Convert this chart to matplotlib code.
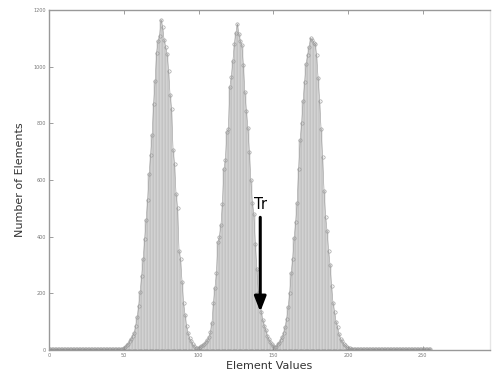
import numpy as np
from matplotlib import pyplot as plt

# element values 0..255 and counts
values = np.arange(256)

# background (flat part before first peak), 0..47
counts_low = [2, 2, 3, 2, 2, 3, 2, 2, 3, 2, 2, 2, 3, 2, 2, 3, 2, 2, 2, 3,
              2, 2, 3, 2, 2, 2, 3, 2, 2, 3, 2, 2, 2, 3, 2, 2, 3, 2, 2, 3,
              2, 2, 3, 2, 3, 3, 3, 3]
# first peak, 48..100
counts_peak1 = [3, 5, 8, 12, 16, 22, 30, 40, 50, 60, 85, 115, 155, 205, 260,
                320, 390, 460, 530, 620, 690, 760, 870, 950, 1050, 1090, 1110,
                1165, 1140, 1095, 1070, 1045, 985, 900, 850, 705, 655, 550,
                500, 350, 320, 240, 165, 125, 85, 60, 42, 30, 20, 14, 8, 6, 8]
# second peak, 101..152
counts_peak2 = [10, 14, 18, 22, 28, 35, 45, 65, 95, 165, 220, 270, 380, 400,
                440, 515, 640, 670, 770, 780, 930, 965, 1020, 1080, 1120, 1150,
                1115, 1090, 1075, 1005, 910, 845, 785, 700, 600, 520, 480, 375,
                285, 200, 170, 135, 105, 85, 70, 50, 38, 28, 20, 14, 12, 10]
# third peak, 153..202
counts_peak3 = [20, 25, 35, 45, 60, 82, 110, 150, 200, 270, 320, 395, 450, 520,
                640, 740, 800, 880, 945, 1010, 1040, 1070, 1100, 1095, 1085,
                1080, 1040, 960, 880, 780, 680, 560, 470, 420, 350, 300, 225,
                165, 135, 100, 80, 55, 40, 30, 22, 16, 12, 8, 6, 5]
# tail, 203..255
counts_tail = [4, 4, 3, 3, 3, 2, 3, 2, 2, 3, 2, 2, 2, 3, 2, 2, 3, 2, 2, 2,
               3, 2, 2, 3, 2, 2, 2, 3, 2, 2, 3, 2, 2, 2, 3, 2, 2, 3, 2, 2,
               2, 3, 2, 2, 3, 2, 2, 2, 3, 2, 2, 3, 2]

counts = np.array(counts_low + counts_peak1 + counts_peak2 + counts_peak3 + counts_tail)

XTICKS = [0, 50, 100, 150, 200, 250]
YTICKS = [0, 200, 400, 600, 800, 1000, 1200]

fig = plt.figure(figsize=(4.93, 3.75), dpi=100)
ax = fig.add_axes([0.0994, 0.0667, 0.8946, 0.9066])

ax.bar(values, counts, width=1.0, color='#dcdcdc', edgecolor='#b4b4b4', linewidth=0.35)
ax.plot(values, counts, '-o', color='#9a9a9a', lw=0.4, markersize=2.4,
        markerfacecolor='none', markeredgewidth=0.45)
ax.axhline(1.5, xmin=0, xmax=256 / 295, color='#555555', lw=1.0, ls=(0, (3, 1)))

# threshold arrow
ax.annotate('', xy=(141.3, 125), xytext=(141.3, 478),
            arrowprops=dict(arrowstyle='-|>,head_width=0.35,head_length=0.9',
                            color='black', lw=2.2))
ax.text(141.5, 488, 'Tr', fontsize=10.5, ha='center', va='bottom')

ax.set_xlim(0, 295)
ax.set_ylim(0, 1200)
ax.set_xticks(XTICKS)
ax.set_yticks(YTICKS)
ax.tick_params(labelsize=3.5, direction='in', length=3, width=0.5, colors='#777777',
               top=True, pad=2)
for s in ax.spines.values():
    s.set_color('#999999')
    s.set_linewidth(1.0)
ax.spines['right'].set_color('#e6e6e6')

ax.set_xlabel('Element Values', fontsize=8, color='#333333', labelpad=2)
ax.set_ylabel('Number of Elements', fontsize=8, color='#333333', labelpad=6)

plt.savefig('out.png', dpi=100)
